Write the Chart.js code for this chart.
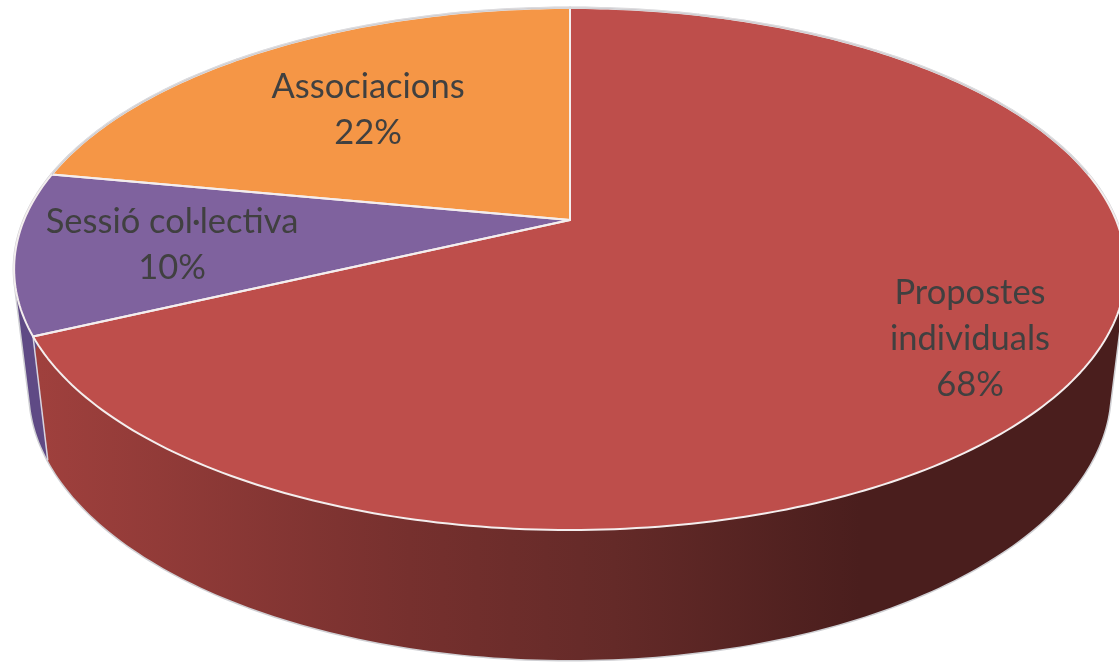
<!DOCTYPE html>
<html lang="ca">

<head>
    <meta charset="UTF-8">
    <title>Propostes</title>
    <style>
        html, body { margin: 0; padding: 0; background: #fff; overflow: hidden; }
        canvas { display: block; }
    </style>
</head>

<body>
    <canvas id="myChart" width="1119" height="662"></canvas>

    <script src="https://cdn.jsdelivr.net/npm/chart.js"></script>
    <script>
        const categories = ['Propostes individuals', 'Sessió col·lectiva', 'Associacions'];
        const shares = [68, 10, 22];

        const topColors = ['#BE4E4B', '#7F629E', '#F59646'];
        const wallColors = ['#9E3F3C', '#5F4A85', '#B56E30'];

        // how each label is broken in lines, and where its block is centred
        const labelLines = [['Propostes', 'individuals'], ['Sessió col·lectiva'], ['Associacions']];
        const labelSpots = [[970, 339], [172, 245], [368, 110]];

        // perspective of the disc: the centre of the pie is not the centre of the ellipse
        const topRim = { x: 570, y: 220, a: 546, b: 251.8, k: -0.1877 };
        const lowRim = { x: 570, y: 340, a: 531, b: 260, k: -0.1877 };

        function project(rim, angle) {
            const u = Math.cos(angle), v = Math.sin(angle);
            const d = 1 + rim.k * v;
            return [rim.x + rim.a * u / d, rim.y + rim.b * v / d];
        }

        function rimPath(ctx, rim, from, to) {
            const steps = Math.max(2, Math.ceil(Math.abs(to - from) * 60));
            for (let i = 0; i <= steps; i++) {
                const p = project(rim, from + (to - from) * i / steps);
                ctx.lineTo(p[0], p[1]);
            }
        }

        // the wall as many small quads in one path, so the hull between the rims gets filled too.
        // all quads wound the same way or they cancel out where they overlap
        function wallPath(ctx, from, to) {
            const steps = Math.max(2, Math.ceil((to - from) * 60));
            ctx.beginPath();
            for (let i = 0; i < steps; i++) {
                const a = from + (to - from) * i / steps;
                const b = from + (to - from) * (i + 1) / steps;
                const quad = [project(topRim, a), project(topRim, b), project(lowRim, b), project(lowRim, a)];
                let area = 0;
                quad.forEach((p, n) => {
                    const q = quad[(n + 1) % 4];
                    area += p[0] * q[1] - q[0] * p[1];
                });
                if (area < 0) quad.reverse();
                ctx.moveTo(quad[0][0], quad[0][1]);
                ctx.lineTo(quad[1][0], quad[1][1]);
                ctx.lineTo(quad[2][0], quad[2][1]);
                ctx.lineTo(quad[3][0], quad[3][1]);
                ctx.closePath();
            }
        }

        const pie3d = {
            id: 'pie3d',
            beforeDatasetsDraw(chart) {
                const ctx = chart.ctx;
                const arcs = chart.getDatasetMeta(0).data;

                const shade = ctx.createLinearGradient(40, 0, 860, 0);
                shade.addColorStop(0, '#9F403D');
                shade.addColorStop(0.45, '#76302E');
                shade.addColorStop(0.7, '#642A28');
                shade.addColorStop(1, '#4A1E1D');

                // side wall first, the top faces cover the back of it
                ctx.lineJoin = 'round';
                arcs.forEach((arc) => {
                    wallPath(ctx, arc.startAngle, arc.endAngle);
                    ctx.lineWidth = 3;
                    ctx.strokeStyle = '#CFCFD3';
                    ctx.stroke();
                });
                arcs.forEach((arc, i) => {
                    wallPath(ctx, arc.startAngle, arc.endAngle);
                    ctx.fillStyle = i === 0 ? shade : wallColors[i];
                    ctx.fill();
                });

                // edge between the purple and the red wall
                const a = project(topRim, arcs[0].endAngle);
                const b = project(lowRim, arcs[0].endAngle);
                ctx.beginPath();
                ctx.moveTo(a[0], a[1]);
                ctx.lineTo(b[0], b[1]);
                ctx.lineWidth = 1.5;
                ctx.strokeStyle = '#D8D4E0';
                ctx.stroke();

                arcs.forEach((arc, i) => {
                    ctx.beginPath();
                    ctx.moveTo(topRim.x, topRim.y);
                    rimPath(ctx, topRim, arc.startAngle, arc.endAngle);
                    ctx.closePath();
                    ctx.fillStyle = topColors[i];
                    ctx.fill();
                });
                arcs.forEach((arc) => {
                    ctx.beginPath();
                    ctx.moveTo(topRim.x, topRim.y);
                    rimPath(ctx, topRim, arc.startAngle, arc.endAngle);
                    ctx.closePath();
                    ctx.lineWidth = 2;
                    ctx.strokeStyle = '#F4EEEE';
                    ctx.stroke();
                });

                // the far side of the rim is grey, not white
                ctx.beginPath();
                rimPath(ctx, topRim, Math.PI * 1.06, Math.PI * 1.94);
                ctx.lineWidth = 1.5;
                ctx.strokeStyle = '#CFCFD3';
                ctx.stroke();

                return false;
            },
            afterDraw(chart) {
                const ctx = chart.ctx;
                ctx.save();
                ctx.font = '34.5px Lato';
                ctx.fillStyle = '#404040';
                ctx.textAlign = 'center';
                ctx.textBaseline = 'middle';
                categories.forEach((name, i) => {
                    const lines = labelLines[i].concat(shares[i] + '%');
                    const lineH = 46;
                    lines.forEach((line, n) => {
                        const y = labelSpots[i][1] + (n - (lines.length - 1) / 2) * lineH;
                        ctx.fillText(line, labelSpots[i][0], y);
                    });
                });
                ctx.restore();
            }
        };

        const chart = new Chart(document.getElementById('myChart'), {
            type: 'pie',
            data: {
                labels: categories,
                datasets: [{ data: shares, backgroundColor: topColors }]
            },
            options: {
                responsive: false,
                animation: false,
                plugins: {
                    legend: { display: false },
                    tooltip: { enabled: false }
                }
            },
            plugins: [pie3d]
        });
    </script>

</body>

</html>
